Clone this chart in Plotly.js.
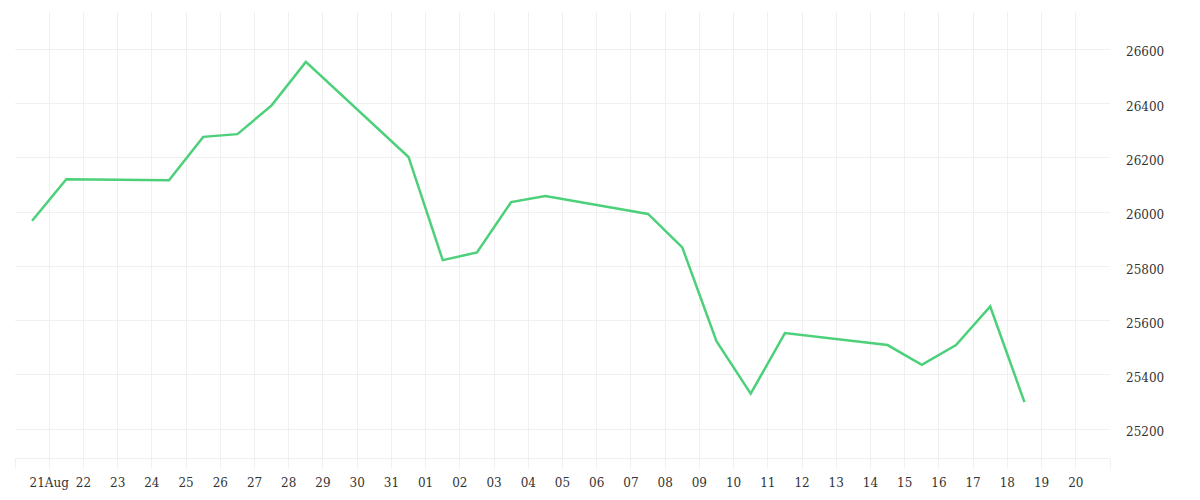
<!DOCTYPE html>
<html>
<head>
<meta charset="utf-8">
<script src="https://cdn.plot.ly/plotly-3.0.1.min.js"></script>
<style>
	html, body { margin: 0; padding: 0; background: #fff; }
	#chart { width: 1200px; height: 500px; }
</style>
</head>
<body>
<div id="chart"></div>
<script>
// daily closes, one per trading day
const dates = [
	'2020-08-20', '2020-08-21', '2020-08-24', '2020-08-25', '2020-08-26', '2020-08-27',
	'2020-08-28', '2020-08-31', '2020-09-01', '2020-09-02', '2020-09-03', '2020-09-04',
	'2020-09-07', '2020-09-08', '2020-09-09', '2020-09-10', '2020-09-11', '2020-09-14',
	'2020-09-15', '2020-09-16', '2020-09-17', '2020-09-18'
];
const closes = [
	25968, 26121, 26117, 26277, 26287, 26393,
	26553, 26203, 25823, 25851, 26037, 26059,
	25993, 25870, 25524, 25331, 25554, 25510,
	25437, 25510, 25652, 25300
];

// day ticks: one per calendar day, only the inner ones are labelled
const tickDays = [
	'2020-08-20', '2020-08-21', '2020-08-22', '2020-08-23', '2020-08-24', '2020-08-25',
	'2020-08-26', '2020-08-27', '2020-08-28', '2020-08-29', '2020-08-30', '2020-08-31',
	'2020-09-01', '2020-09-02', '2020-09-03', '2020-09-04', '2020-09-05', '2020-09-06',
	'2020-09-07', '2020-09-08', '2020-09-09', '2020-09-10', '2020-09-11', '2020-09-12',
	'2020-09-13', '2020-09-14', '2020-09-15', '2020-09-16', '2020-09-17', '2020-09-18',
	'2020-09-19', '2020-09-20', '2020-09-21'
];
const tickLabels = [
	'', '21Aug', '22', '23', '24', '25',
	'26', '27', '28', '29', '30', '31',
	'01', '02', '03', '04', '05', '06',
	'07', '08', '09', '10', '11', '12',
	'13', '14', '15', '16', '17', '18',
	'19', '20', ''
];

const priceTicks = [25200, 25400, 25600, 25800, 26000, 26200, 26400, 26600];

const GRID = '#f0f0f0';

const line = {
	x: dates.map(d => d + ' 12:00'),
	y: closes,
	mode: 'lines',
	line: { color: '#4cd07a', width: 2.5 },
	hoverinfo: 'skip'
};

const layout = {
	width: 1200,
	height: 500,
	margin: { l: 15, r: 90, t: 12, b: 42 },
	paper_bgcolor: '#fff',
	plot_bgcolor: '#fff',
	showlegend: false,
	font: { family: 'DejaVu Serif', size: 12, color: '#333' },
	xaxis: {
		type: 'date',
		range: ['2020-08-20', '2020-09-21'],
		tickmode: 'array',
		tickvals: tickDays,
		ticktext: tickLabels,
		showgrid: true,
		gridcolor: GRID,
		gridwidth: 1,
		ticks: 'outside',
		ticklen: 10,
		tickcolor: GRID,
		tickwidth: 1,
		ticklabelstandoff: 4,
		showline: true,
		linecolor: GRID,
		linewidth: 1,
		zeroline: false,
		fixedrange: true
	},
	yaxis: {
		side: 'right',
		range: [25094, 26737],
		tickmode: 'array',
		tickvals: priceTicks,
		ticktext: priceTicks.map(String),
		showgrid: true,
		gridcolor: GRID,
		gridwidth: 1,
		zeroline: false,
		ticks: '',
		ticklabelstandoff: 15,
		ticklabelshift: 3,
		fixedrange: true
	}
};

Plotly.newPlot('chart', [line], layout, { displayModeBar: false, staticPlot: true });
</script>
</body>
</html>
